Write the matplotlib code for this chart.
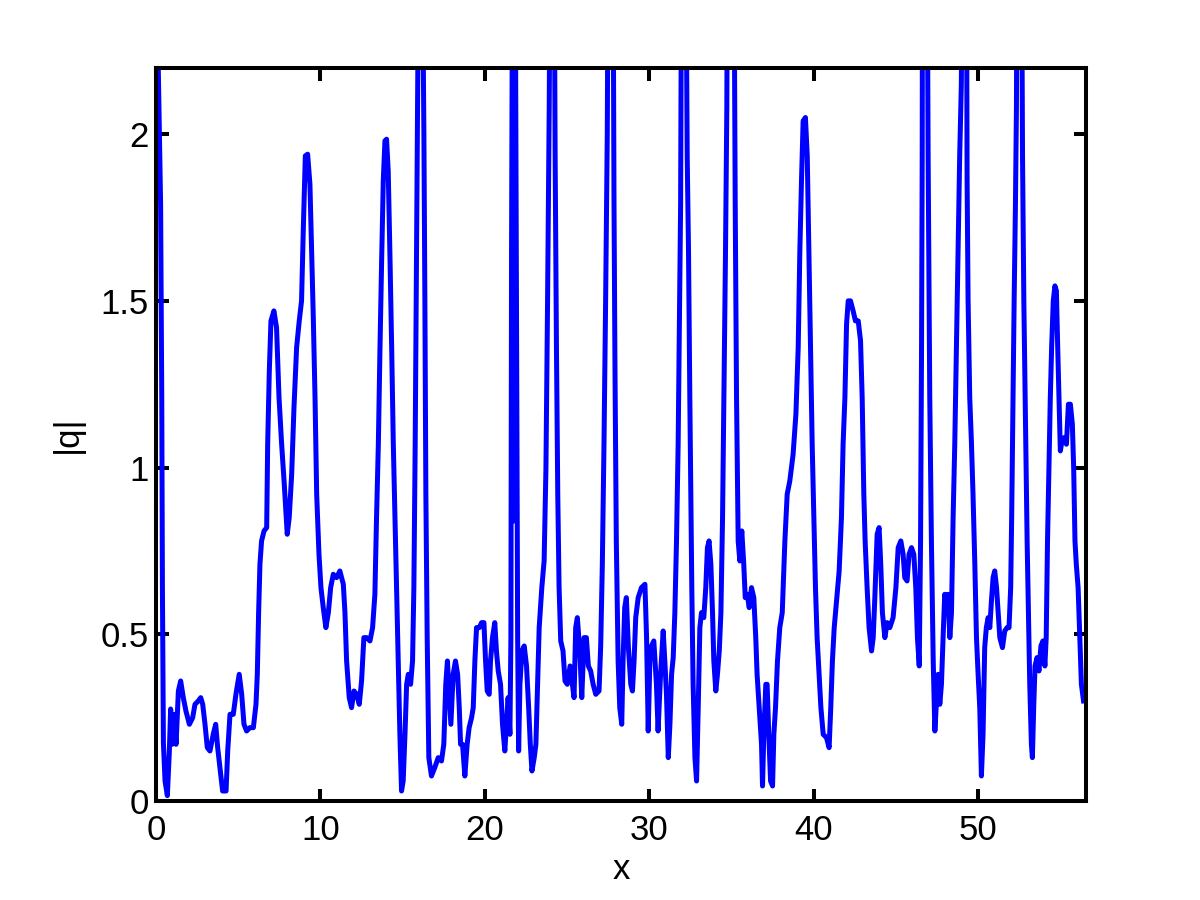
import matplotlib
matplotlib.use("Agg")
import matplotlib.pyplot as plt

# sample positions
x = [0.0, 0.28, 0.35, 0.39, 0.45, 0.55, 0.69, 0.81, 0.89, 0.99, 1.09, 1.22, 1.36, 1.5, 1.66,
     1.82, 2.03, 2.23, 2.37, 2.57, 2.72, 2.84, 2.98, 3.12, 3.28, 3.48, 3.63, 3.75, 3.89, 4.05,
     4.26, 4.36, 4.5, 4.7, 4.86, 5.06, 5.21, 5.35, 5.51, 5.71, 5.92, 6.08, 6.16, 6.24, 6.32,
     6.42, 6.57, 6.73, 6.79, 6.89, 6.99, 7.17, 7.33, 7.48, 7.64, 7.8, 7.98, 8.1, 8.25, 8.39,
     8.55, 8.71, 8.85, 8.96, 9.08, 9.22, 9.36, 9.46, 9.56, 9.67, 9.77, 9.91, 10.03, 10.17, 10.33,
     10.48, 10.62, 10.78, 10.98, 11.18, 11.39, 11.49, 11.59, 11.75, 11.89, 12.04, 12.2, 12.36, 12.5, 12.64,
     12.81, 13.01, 13.17, 13.31, 13.41, 13.52, 13.62, 13.72, 13.82, 13.92, 14.02, 14.12, 14.22, 14.33, 14.43,
     14.53, 14.63, 14.73, 14.83, 14.93, 15.03, 15.14, 15.24, 15.34, 15.48, 15.6, 15.68, 15.76, 15.84, 15.9,
     15.98, 16.19, 16.29, 16.35, 16.41, 16.49, 16.59, 16.75, 16.95, 17.16, 17.36, 17.5, 17.62, 17.72, 17.83,
     17.93, 18.07, 18.21, 18.34, 18.44, 18.52, 18.64, 18.78, 18.92, 19.04, 19.19, 19.29, 19.39, 19.49, 19.66,
     19.8, 19.94, 20.04, 20.14, 20.26, 20.34, 20.46, 20.6, 20.7, 20.81, 20.95, 21.07, 21.21, 21.31, 21.41,
     21.52, 21.58, 21.62, 21.68, 21.72, 21.76, 21.8, 21.84, 21.93, 21.99, 22.05, 22.13, 22.25, 22.39, 22.53,
     22.66, 22.76, 22.86, 23.0, 23.1, 23.2, 23.3, 23.46, 23.6, 23.71, 23.81, 23.91, 23.97, 24.21, 24.27,
     24.35, 24.43, 24.51, 24.61, 24.75, 24.87, 25.01, 25.18, 25.32, 25.42, 25.52, 25.62, 25.77, 25.89, 26.03,
     26.17, 26.29, 26.43, 26.58, 26.74, 26.94, 27.04, 27.14, 27.24, 27.34, 27.44, 27.5, 27.79, 27.85, 27.91,
     27.99, 28.1, 28.2, 28.32, 28.4, 28.5, 28.6, 28.72, 28.87, 28.97, 29.07, 29.17, 29.32, 29.52, 29.73,
     29.83, 29.93, 30.03, 30.13, 30.27, 30.43, 30.53, 30.68, 30.84, 30.94, 31.04, 31.15, 31.25, 31.35, 31.45,
     31.55, 31.65, 31.75, 31.81, 31.9, 31.96, 32.22, 32.3, 32.38, 32.46, 32.52, 32.58, 32.66, 32.77, 32.87,
     32.97, 33.07, 33.17, 33.31, 33.43, 33.53, 33.63, 33.74, 33.84, 33.92, 34.04, 34.14, 34.25, 34.35, 34.45,
     34.53, 34.63, 34.71, 34.75, 35.14, 35.22, 35.3, 35.4, 35.5, 35.62, 35.74, 35.83, 35.95, 36.07, 36.21,
     36.35, 36.47, 36.55, 36.68, 36.82, 36.88, 36.96, 37.08, 37.16, 37.26, 37.37, 37.49, 37.57, 37.67, 37.79,
     37.93, 38.08, 38.24, 38.38, 38.54, 38.74, 38.91, 39.05, 39.15, 39.25, 39.35, 39.49, 39.6, 39.7, 39.8,
     39.9, 40.0, 40.1, 40.2, 40.32, 40.43, 40.57, 40.77, 40.93, 41.03, 41.13, 41.24, 41.38, 41.54, 41.68,
     41.78, 41.89, 41.99, 42.09, 42.23, 42.39, 42.53, 42.7, 42.84, 42.94, 43.04, 43.12, 43.24, 43.36, 43.51,
     43.61, 43.71, 43.85, 43.97, 44.07, 44.17, 44.32, 44.46, 44.62, 44.82, 44.99, 45.13, 45.29, 45.43, 45.53,
     45.67, 45.79, 45.94, 46.08, 46.2, 46.3, 46.41, 46.49, 46.55, 46.59, 46.61, 46.89, 46.95, 47.05, 47.15,
     47.26, 47.36, 47.46, 47.56, 47.66, 47.76, 47.86, 47.96, 48.06, 48.16, 48.27, 48.37, 48.47, 48.57, 48.67,
     48.77, 48.87, 48.97, 49.03, 49.28, 49.32, 49.38, 49.48, 49.58, 49.68, 49.79, 49.89, 49.99, 50.09, 50.19,
     50.29, 50.39, 50.49, 50.6, 50.7, 50.8, 50.9, 51.0, 51.11, 51.21, 51.31, 51.47, 51.61, 51.75, 51.87,
     51.97, 52.03, 52.11, 52.18, 52.26, 52.32, 52.36, 52.63, 52.69, 52.77, 52.89, 52.97, 53.05, 53.13, 53.23,
     53.29, 53.37, 53.45, 53.57, 53.69, 53.81, 53.93, 54.05, 54.13, 54.21, 54.3, 54.38, 54.46, 54.56, 54.66,
     54.75, 54.83, 54.91, 54.99, 55.09, 55.22, 55.36, 55.48, 55.6, 55.72, 55.8, 55.88, 55.96, 56.07, 56.17,
     56.27, 56.4]

# |q| values at those positions (tall peaks go past the top of the axes)
q = [2.6, 1.79, 1.21, 0.64, 0.175, 0.06, 0.016, 0.147, 0.276, 0.17, 0.26, 0.17, 0.33, 0.36, 0.31,
     0.27, 0.23, 0.25, 0.29, 0.30, 0.31, 0.29, 0.23, 0.16, 0.15, 0.20, 0.23, 0.16, 0.10, 0.03,
     0.03, 0.15, 0.26, 0.26, 0.32, 0.38, 0.32, 0.23, 0.21, 0.22, 0.22, 0.29, 0.38, 0.565, 0.71,
     0.78, 0.81, 0.82, 1.07, 1.29, 1.44, 1.47, 1.42, 1.21, 1.07, 0.95, 0.80, 0.85, 0.98, 1.18,
     1.36, 1.44, 1.50, 1.72, 1.935, 1.94, 1.85, 1.65, 1.46, 1.21, 0.92, 0.74, 0.64, 0.58, 0.52,
     0.565, 0.64, 0.68, 0.67, 0.69, 0.65, 0.565, 0.42, 0.31, 0.28, 0.33, 0.32, 0.29, 0.36, 0.49,
     0.49, 0.48, 0.52, 0.62, 0.85, 1.07, 1.36, 1.62, 1.86, 1.98, 1.985, 1.89, 1.65, 1.36, 1.07,
     0.85, 0.64, 0.42, 0.20, 0.03, 0.06, 0.20, 0.35, 0.38, 0.35, 0.42, 0.64, 1.07, 1.65, 2.08,
     2.6, 2.6, 2.0, 1.50, 0.92, 0.49, 0.13, 0.075, 0.10, 0.13, 0.12, 0.17, 0.35, 0.42, 0.32,
     0.23, 0.38, 0.42, 0.38, 0.28, 0.17, 0.17, 0.075, 0.17, 0.22, 0.25, 0.28, 0.42, 0.52, 0.52,
     0.535, 0.535, 0.42, 0.33, 0.32, 0.42, 0.49, 0.535, 0.45, 0.39, 0.35, 0.23, 0.15, 0.23, 0.31,
     0.20, 0.49, 1.65, 2.6, 2.6, 0.84, 2.6, 2.6, 1.36, 0.49, 0.15, 0.35, 0.45, 0.465, 0.405,
     0.28, 0.17, 0.09, 0.13, 0.17, 0.35, 0.52, 0.64, 0.72, 0.995, 1.50, 2.08, 2.6, 2.6, 1.935,
     1.36, 0.92, 0.64, 0.48, 0.45, 0.36, 0.35, 0.405, 0.35, 0.31, 0.52, 0.55, 0.45, 0.31, 0.49,
     0.49, 0.405, 0.39, 0.35, 0.32, 0.33, 0.465, 0.71, 1.07, 1.50, 2.0, 2.6, 2.6, 1.79, 1.29,
     0.78, 0.42, 0.28, 0.23, 0.42, 0.58, 0.61, 0.465, 0.35, 0.33, 0.42, 0.55, 0.61, 0.64, 0.65,
     0.49, 0.21, 0.42, 0.465, 0.48, 0.35, 0.21, 0.38, 0.51, 0.42, 0.32, 0.13, 0.23, 0.38, 0.43,
     0.565, 0.78, 1.07, 1.36, 1.79, 2.6, 2.6, 1.935, 1.65, 1.21, 0.92, 0.64, 0.35, 0.13, 0.06,
     0.28, 0.52, 0.565, 0.55, 0.64, 0.76, 0.78, 0.71, 0.565, 0.42, 0.33, 0.38, 0.45, 0.565, 0.85,
     1.21, 1.65, 2.08, 2.6, 2.6, 1.79, 1.21, 0.78, 0.72, 0.81, 0.71, 0.61, 0.62, 0.58, 0.64,
     0.61, 0.49, 0.38, 0.28, 0.17, 0.045, 0.20, 0.35, 0.35, 0.20, 0.06, 0.045, 0.20, 0.28, 0.42,
     0.52, 0.565, 0.78, 0.92, 0.96, 1.04, 1.16, 1.36, 1.65, 1.86, 2.04, 2.05, 1.935, 1.65, 1.36,
     1.07, 0.85, 0.64, 0.49, 0.38, 0.28, 0.20, 0.19, 0.16, 0.28, 0.42, 0.52, 0.60, 0.69, 0.85,
     1.07, 1.21, 1.43, 1.50, 1.50, 1.47, 1.44, 1.44, 1.38, 1.21, 0.92, 0.78, 0.64, 0.52, 0.45,
     0.49, 0.61, 0.80, 0.82, 0.71, 0.565, 0.49, 0.535, 0.52, 0.55, 0.64, 0.76, 0.78, 0.74, 0.67,
     0.66, 0.74, 0.76, 0.74, 0.64, 0.49, 0.405, 0.78, 1.36, 1.935, 2.6, 2.6, 1.935, 1.21, 0.78,
     0.42, 0.21, 0.30, 0.38, 0.29, 0.35, 0.49, 0.62, 0.58, 0.62, 0.49, 0.565, 0.85, 1.07, 1.36,
     1.65, 1.935, 2.15, 2.6, 2.6, 1.86, 1.50, 1.21, 1.08, 0.92, 0.71, 0.49, 0.38, 0.28, 0.075,
     0.20, 0.46, 0.52, 0.55, 0.52, 0.60, 0.67, 0.69, 0.64, 0.565, 0.49, 0.46, 0.51, 0.52, 0.52,
     0.64, 0.85, 1.21, 1.50, 1.79, 2.08, 2.6, 2.6, 1.935, 1.50, 1.07, 0.78, 0.565, 0.35, 0.17,
     0.13, 0.28, 0.405, 0.43, 0.39, 0.465, 0.48, 0.405, 0.49, 0.78, 1.0, 1.21, 1.36, 1.50, 1.545,
     1.53, 1.36, 1.21, 1.05, 1.08, 1.09, 1.07, 1.19, 1.19, 1.13, 1.0, 0.78, 0.71, 0.64, 0.49,
     0.35, 0.30]

x_ticks = [0, 10, 20, 30, 40, 50]
y_ticks = [0, 0.5, 1, 1.5, 2]
y_tick_labels = ['0', '0.5', '1', '1.5', '2']

plt.rcParams['font.family'] = ['Liberation Sans', 'DejaVu Sans']

fig = plt.figure(figsize=(12, 9), dpi=100)
ax = fig.add_axes([0.13, 0.11, 0.775, 0.815])

ax.plot(x, q, color=(0, 0, 1), linewidth=3.6)

ax.set_xlim(0, 56.55)
ax.set_ylim(0, 2.2)
ax.set_xticks(x_ticks)
ax.set_yticks(y_ticks)
ax.set_yticklabels(y_tick_labels)

# matlab style box with inward ticks on all sides
for s in ax.spines.values():
    s.set_linewidth(2.9)
ax.tick_params(direction='in', length=9, width=2.9, top=True, right=True,
               labelsize=25)
ax.tick_params(axis='x', pad=9)
ax.tick_params(axis='y', pad=5)

ax.set_xlabel('x', fontsize=25, labelpad=5)
ax.set_ylabel('|q|', fontsize=25, labelpad=12)

fig.savefig('out.png', dpi=100, facecolor='white')
